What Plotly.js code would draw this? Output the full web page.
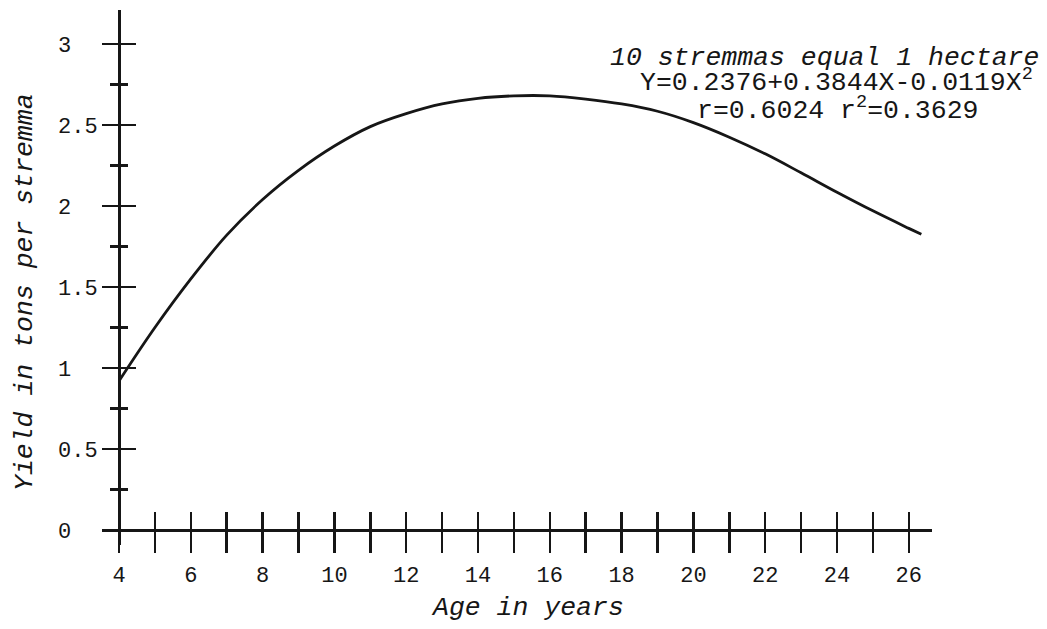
<!DOCTYPE html>
<html>
<head>
<meta charset="utf-8">
<script src="https://cdn.plot.ly/plotly-3.0.1.min.js"></script>
<style>
  html, body { margin: 0; padding: 0; background: #ffffff; }
  #chart { width: 1047px; height: 629px; }
</style>
</head>
<body>
<div id="chart"></div>
<script>
// ---- data ----
const ageYears  = [4, 5, 6, 7, 8, 9, 10, 11, 12, 13, 14, 15, 16, 17, 18, 19, 20, 21, 22, 23, 24, 25, 26, 26.35];
const yieldTons = [0.92, 1.25, 1.55, 1.82, 2.04, 2.22, 2.37, 2.49, 2.57, 2.63, 2.665, 2.68, 2.68, 2.66, 2.63, 2.585, 2.515, 2.425, 2.322, 2.205, 2.085, 1.97, 1.862, 1.825];

const xTickVals   = [4, 6, 8, 10, 12, 14, 16, 18, 20, 22, 24, 26];
const xTickText   = ['4', '6', '8', '10', '12', '14', '16', '18', '20', '22', '24', '26'];
const xMinorTicks = [5, 7, 9, 11, 13, 15, 17, 19, 21, 23, 25];

const yTickVals   = [0, 0.5, 1, 1.5, 2, 2.5, 3];
const yTickText   = ['0\u00a0\u00a0', '0.5', '1\u00a0\u00a0', '1.5', '2\u00a0\u00a0', '2.5', '3\u00a0\u00a0'];
const yMinorTicks = [0.25, 0.75, 1.25, 1.75, 2.25, 2.75];

const noteLines = [
  '10 stremmas equal 1 hectare',
  'Y=0.2376+0.3844X-0.0119X<sup>2</sup>',
  'r=0.6024 r<sup>2</sup>=0.3629'
];
const xTitle = 'Age in years';
const yTitle = 'Yield in tons per stremma';

// ---- layout geometry ----
const W = 1047, H = 629;
const xRange = [3.526, 26.646];
const yRange = [-0.0926, 3.21];
const xDomain = [102 / W, 932 / W];
const yDomain = [1 - 545 / H, 1 - 10 / H];
const xCross = 4;   // y axis stands at age 4
const yCross = 0;   // x axis lies at yield 0
const xAxisPos = yDomain[0] + (yCross - yRange[0]) / (yRange[1] - yRange[0]) * (yDomain[1] - yDomain[0]);
const yAxisPos = xDomain[0] + (xCross - xRange[0]) / (xRange[1] - xRange[0]) * (xDomain[1] - xDomain[0]);

const ink = '#161616';
const typeFont = 'Liberation Mono, Courier New, monospace';
const tickFont = { family: 'Liberation Mono, DejaVu Sans Mono, monospace', size: 22, color: ink };

const traces = [
  {
    type: 'scatter', mode: 'lines',
    x: ageYears, y: yieldTons,
    line: { color: ink, width: 2.8, shape: 'spline', smoothing: 1 },
    hoverinfo: 'skip', showlegend: false
  },
  { // carrier for the inner-side tick axes
    type: 'scatter', mode: 'lines',
    x: ageYears, y: yieldTons, xaxis: 'x2', yaxis: 'y2',
    opacity: 0, line: { width: 0 }, hoverinfo: 'skip', showlegend: false
  }
];

const layout = {
  width: W, height: H,
  margin: { l: 0, r: 0, t: 0, b: 0, pad: 0 },
  paper_bgcolor: '#ffffff', plot_bgcolor: 'rgba(0,0,0,0)',
  showlegend: false,
  xaxis: {
    domain: xDomain, range: xRange, anchor: 'free', position: xAxisPos,
    showline: true, linecolor: ink, linewidth: 3,
    showgrid: false, zeroline: false,
    tickmode: 'array', tickvals: xTickVals, ticktext: xTickText,
    ticks: 'outside', ticklen: 21, tickwidth: 2.5, tickcolor: ink,
    minor: { tickmode: 'array', tickvals: xMinorTicks, ticks: 'outside', ticklen: 21, tickwidth: 2.5, tickcolor: ink, showgrid: false },
    tickfont: tickFont, ticklabelstandoff: 3
  },
  xaxis2: {
    overlaying: 'x', domain: xDomain, range: xRange, anchor: 'free', position: xAxisPos,
    showline: false, showgrid: false, zeroline: false, showticklabels: false,
    tickmode: 'array', tickvals: xTickVals,
    ticks: 'inside', ticklen: 18, tickwidth: 2.5, tickcolor: ink,
    minor: { tickmode: 'array', tickvals: xMinorTicks, ticks: 'inside', ticklen: 18, tickwidth: 2.5, tickcolor: ink, showgrid: false }
  },
  yaxis: {
    domain: yDomain, range: yRange, anchor: 'free', position: yAxisPos,
    showline: true, linecolor: ink, linewidth: 3,
    showgrid: false, zeroline: false,
    tickmode: 'array', tickvals: yTickVals, ticktext: yTickText,
    ticks: 'outside', ticklen: 16, tickwidth: 2.5, tickcolor: ink,
    minor: { tickmode: 'array', tickvals: yMinorTicks, ticks: 'outside', ticklen: 8, tickwidth: 2.5, tickcolor: ink, showgrid: false },
    tickfont: tickFont
  },
  yaxis2: {
    overlaying: 'y', domain: yDomain, range: yRange, anchor: 'free', position: yAxisPos, side: 'left',
    showline: false, showgrid: false, zeroline: false, showticklabels: false,
    tickmode: 'array', tickvals: yTickVals,
    ticks: 'inside', ticklen: 16, tickwidth: 2.5, tickcolor: ink,
    minor: { tickmode: 'array', tickvals: yMinorTicks, ticks: 'inside', ticklen: 8, tickwidth: 2.5, tickcolor: ink, showgrid: false }
  },
  annotations: [
    { text: yTitle, textangle: -90, xref: 'paper', yref: 'paper', x: 25 / W, y: 1 - 292 / H,
      xanchor: 'center', yanchor: 'middle', showarrow: false,
      font: { family: typeFont, size: 26.5, style: 'italic', color: ink } },
    { text: xTitle, xref: 'paper', yref: 'paper', x: 527 / W, y: 1 - 608 / H,
      xanchor: 'center', yanchor: 'middle', showarrow: false,
      font: { family: typeFont, size: 26.5, style: 'italic', color: ink } },
    { text: noteLines[0], xref: 'paper', yref: 'paper', x: 608 / W, y: 1 - 58 / H,
      xanchor: 'left', yanchor: 'middle', showarrow: false,
      font: { family: typeFont, size: 26.5, style: 'italic', color: ink } },
    { text: noteLines[1], xref: 'paper', yref: 'paper', x: 638 / W, y: 1 - 81 / H,
      xanchor: 'left', yanchor: 'middle', showarrow: false,
      font: { family: typeFont, size: 26.5, color: ink } },
    { text: noteLines[2], xref: 'paper', yref: 'paper', x: 695 / W, y: 1 - 109 / H,
      xanchor: 'left', yanchor: 'middle', showarrow: false,
      font: { family: typeFont, size: 26.5, color: ink } }
  ]
};

Plotly.newPlot('chart', traces, layout, { staticPlot: true, displayModeBar: false });
</script>
</body>
</html>
